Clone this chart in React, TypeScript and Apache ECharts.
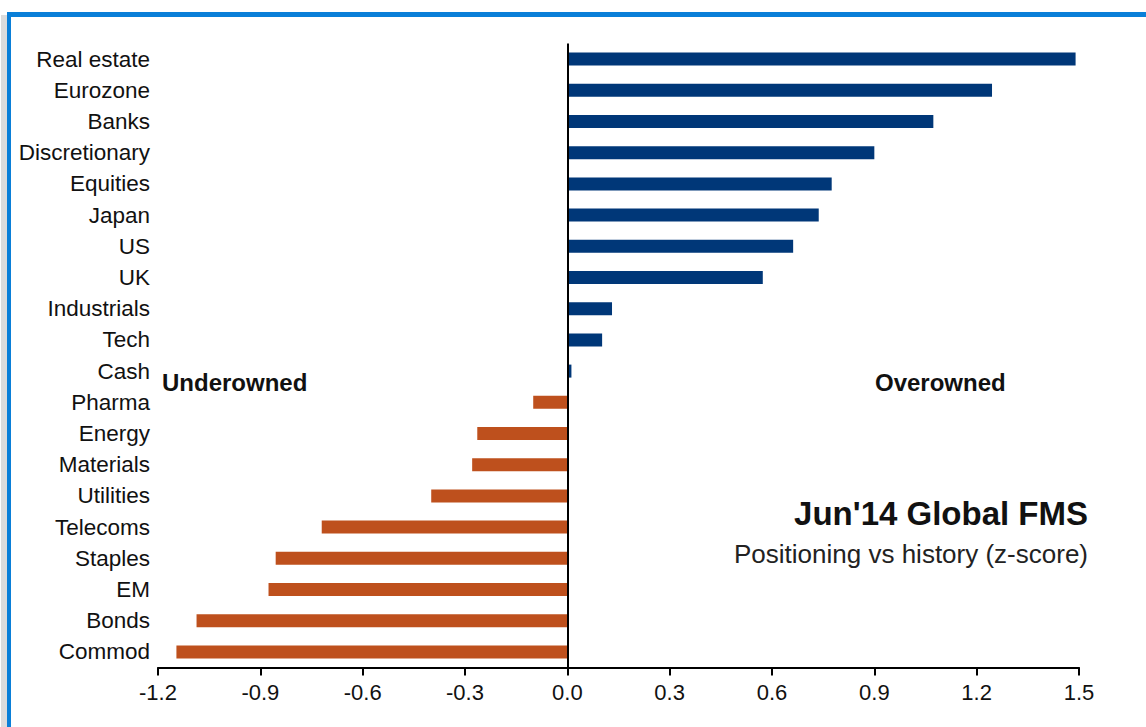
import React, { useEffect, useRef } from "react";
import * as echarts from "echarts";

const categories = [
  "Real estate", "Eurozone", "Banks", "Discretionary", "Equities", "Japan", "US", "UK",
  "Industrials", "Tech", "Cash", "Pharma", "Energy", "Materials", "Utilities", "Telecoms",
  "Staples", "EM", "Bonds", "Commod",
];
const values = [
  1.49, 1.245, 1.073, 0.9, 0.775, 0.737, 0.662, 0.573,
  0.131, 0.102, 0.012, -0.1, -0.264, -0.279, -0.399, -0.72,
  -0.855, -0.876, -1.087, -1.146,
];
const xTicks = { min: -1.2, max: 1.5, interval: 0.3 };
const titleText = "Jun'14 Global FMS";
const subtitleText = "Positioning vs history (z-score)";
const leftNote = "Underowned";
const rightNote = "Overowned";

const POS = "#003778";
const NEG = "#BE501D";
const LABELFONT = "'Liberation Sans Narrow', 'Arial Narrow', 'Liberation Sans', Arial, sans-serif";
const SANS = "'Liberation Sans', Arial, sans-serif";

export default function App() {
  const ref = useRef<HTMLDivElement>(null);
  useEffect(() => {
    document.body.style.margin = "0";
    const chart = echarts.init(ref.current!, null, { renderer: "svg" });
    chart.setOption({
      animation: false,
      backgroundColor: "#ffffff",
      grid: { left: 158, right: 67, top: 43.5, bottom: 59.5, containLabel: false },
      xAxis: {
        type: "value",
        min: xTicks.min,
        max: xTicks.max,
        interval: xTicks.interval,
        axisLine: { show: true, onZero: false, lineStyle: { color: "#000", width: 2 } },
        axisTick: { show: true, length: 8, lineStyle: { color: "#000", width: 2 } },
        splitLine: { show: false },
        axisLabel: {
          formatter: (v: number) => v.toFixed(1),
          fontFamily: LABELFONT,
          fontSize: 22,
          color: "#111",
          margin: 14,
        },
      },
      yAxis: {
        type: "category",
        data: categories,
        inverse: true,
        axisLine: { show: false },
        axisTick: { show: false },
        axisLabel: {
          interval: 0,
          hideOverlap: false,
          fontFamily: LABELFONT,
          fontSize: 22.5,
          color: "#111",
          margin: 8,
        },
      },
      series: [
        {
          type: "bar",
          data: values,
          barWidth: 13,
          itemStyle: {
            color: (p: any) => (p.value >= 0 ? POS : NEG),
          },
          markLine: {
            silent: true,
            symbol: "none",
            label: { show: false },
            lineStyle: { color: "#000", width: 2, type: "solid" },
            data: [{ xAxis: 0 }],
          },
        },
      ],
      graphic: [
        { type: "rect", shape: { x: 1, y: 15, width: 6, height: 712 }, style: { fill: "#dcdcdc" }, silent: true },
        { type: "rect", shape: { x: 7, y: 12, width: 1139, height: 5 }, style: { fill: "#0A7FD8" }, silent: true },
        { type: "rect", shape: { x: 7, y: 12, width: 4, height: 715 }, style: { fill: "#0A7FD8" }, silent: true },
        {
          type: "text", left: 162, top: 370,
          style: { text: leftNote, font: `bold 24px ${SANS}`, fill: "#111" },
        },
        {
          type: "text", left: 875, top: 370,
          style: { text: rightNote, font: `bold 24px ${SANS}`, fill: "#111" },
        },
        {
          type: "text", right: 1146 - 1088, top: 497,
          style: { text: titleText, font: `bold 33px ${SANS}`, fill: "#111", align: "right" },
        },
        {
          type: "text", right: 1146 - 1088, top: 541,
          style: { text: subtitleText, font: `26px ${SANS}`, fill: "#222", align: "right" },
        },
      ],
    });
    return () => chart.dispose();
  }, []);
  return <div ref={ref} style={{ width: 1146, height: 727 }} />;
}
